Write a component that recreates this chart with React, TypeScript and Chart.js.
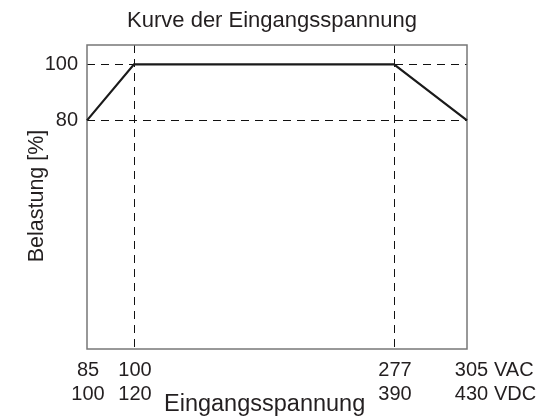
import React, { useEffect, useRef } from 'react';
import { Chart, registerables, LinearScale } from 'chart.js';

Chart.register(...registerables);

// ---- data ----
const inputVoltageVAC = [85, 100, 277, 305];
const loadPercent = [80, 100, 100, 80];
const vacTickLabels = ['85', '100', '277', '305'];
const vdcTickLabels = ['100', '120', '390', '430'];
const xGridValues = [100, 277];
const yTickValues = [80, 100];
const chartTitle = 'Kurve der Eingangsspannung';
const xAxisTitle = 'Eingangsspannung';
const yAxisTitle = 'Belastung [%]';
const unitLabels = ['VAC', 'VDC'];

// ---- layout of the non-uniform (broken) x axis ----
const axisBreakFractions = [0, 0.1237, 0.8079, 1];

class PiecewiseScale extends LinearScale {
  static id = 'piecewise';
  static defaults = LinearScale.defaults;
  getPixelForValue(value: number) {
    const bp = inputVoltageVAC;
    const fr = axisBreakFractions;
    let i = 0;
    while (i < bp.length - 2 && value > bp[i + 1]) i++;
    const t = fr[i] + ((value - bp[i]) / (bp[i + 1] - bp[i])) * (fr[i + 1] - fr[i]);
    return this.getPixelForDecimal(t);
  }
}
Chart.register(PiecewiseScale as any);

const FONT = '"Liberation Sans", Arial, sans-serif';
const TEXT = '#231f20';

const decorPlugin = {
  id: 'decor',
  beforeDatasetsDraw(chart: any) {
    const { ctx, chartArea: a, scales } = chart;
    const x = scales.x, y = scales.y;
    ctx.save();
    ctx.strokeStyle = '#111';
    ctx.lineWidth = 1;
    ctx.setLineDash([8, 6]);
    yTickValues.forEach((v) => {
      const py = Math.round(y.getPixelForValue(v)) + 0.5;
      ctx.beginPath();
      ctx.moveTo(a.left, py);
      ctx.lineTo(a.right, py);
      ctx.stroke();
    });
    xGridValues.forEach((v) => {
      const px = Math.round(x.getPixelForValue(v)) + 0.5;
      ctx.beginPath();
      ctx.moveTo(px, a.top);
      ctx.lineTo(px, a.bottom);
      ctx.stroke();
    });
    ctx.setLineDash([]);
    ctx.strokeStyle = '#777';
    ctx.lineWidth = 1.5;
    ctx.strokeRect(a.left, a.top, a.right - a.left, a.bottom - a.top);
    ctx.restore();
  },
  afterDraw(chart: any) {
    const { ctx, chartArea: a, scales } = chart;
    const x = scales.x, y = scales.y;
    ctx.save();
    ctx.fillStyle = TEXT;
    // title
    ctx.font = `22px ${FONT}`;
    ctx.textAlign = 'center';
    ctx.textBaseline = 'alphabetic';
    ctx.fillText(chartTitle, 272, 27);
    // y ticks
    ctx.font = `20px ${FONT}`;
    ctx.textAlign = 'right';
    ctx.textBaseline = 'middle';
    yTickValues.forEach((v) => {
      ctx.fillText(String(v), a.left - 9, y.getPixelForValue(v));
    });
    // x ticks (two rows)
    ctx.textAlign = 'center';
    inputVoltageVAC.forEach((v, i) => {
      const px = x.getPixelForValue(v) + (i === inputVoltageVAC.length - 1 ? 4.5 : 1);
      ctx.fillText(vacTickLabels[i], px, a.bottom + 21);
      ctx.fillText(vdcTickLabels[i], px, a.bottom + 45);
    });
    ctx.textAlign = 'left';
    ctx.fillText(unitLabels[0], a.right + 27, a.bottom + 21);
    ctx.fillText(unitLabels[1], a.right + 27, a.bottom + 45);
    // x title
    ctx.font = `23.5px ${FONT}`;
    ctx.textAlign = 'left';
    ctx.textBaseline = 'alphabetic';
    ctx.fillText(xAxisTitle, 164, 411);
    // y title
    ctx.font = `21.5px ${FONT}`;
    ctx.translate(43, (a.top + a.bottom) / 2 - 1);
    ctx.rotate(-Math.PI / 2);
    ctx.textAlign = 'center';
    ctx.fillText(yAxisTitle, 0, 0);
    ctx.restore();
  },
};

export default function App() {
  const ref = useRef<HTMLCanvasElement | null>(null);
  useEffect(() => {
    if (!ref.current) return;
    const chart = new Chart(ref.current, {
      type: 'line',
      data: {
        datasets: [
          {
            data: inputVoltageVAC.map((v, i) => ({ x: v, y: loadPercent[i] })),
            borderColor: '#1a1a1a',
            borderWidth: 2.2,
            pointRadius: 0,
            tension: 0,
            fill: false,
            clip: false as any,
          },
        ],
      },
      options: {
        animation: false,
        responsive: false,
        layout: { padding: { left: 87, right: 85, top: 45, bottom: 68 } },
        plugins: { legend: { display: false }, tooltip: { enabled: false }, title: { display: false } },
        scales: {
          x: { type: 'piecewise' as any, display: false, min: 85, max: 305 },
          y: { type: 'linear', display: false, min: -1.6, max: 106.9 },
        },
      },
      plugins: [decorPlugin],
    });
    return () => chart.destroy();
  }, []);
  return (
    <div style={{ position: 'fixed', left: 0, top: 0, width: 552, height: 417, background: '#fff' }}>
      <canvas ref={ref} width={552} height={417} style={{ display: 'block' }} />
    </div>
  );
}
